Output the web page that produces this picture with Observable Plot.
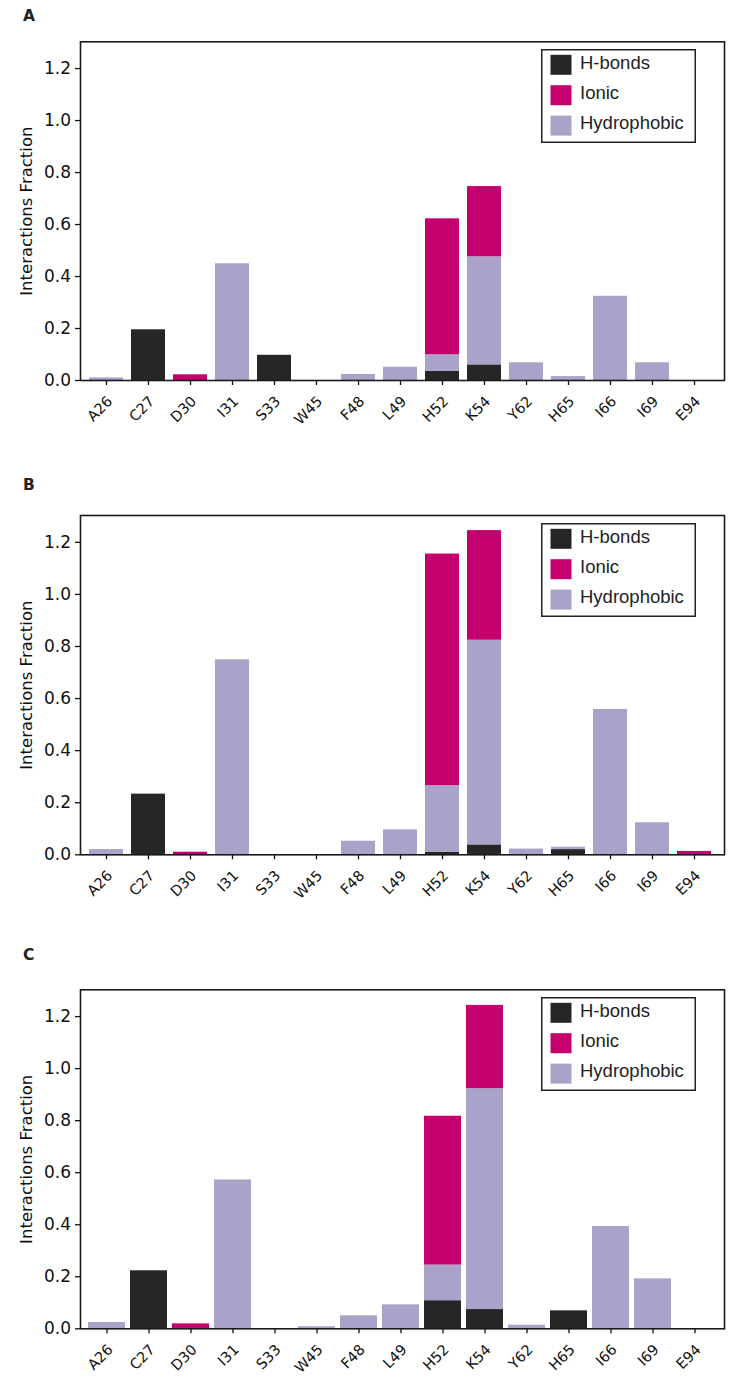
<!DOCTYPE html>
<html>
<head>
<meta charset="utf-8">
<script src="https://cdn.jsdelivr.net/npm/d3@7"></script>
<script src="https://cdn.jsdelivr.net/npm/@observablehq/plot@0.6"></script>
<style>
  html, body { margin: 0; padding: 0; background: #fff; }
  .panel { position: relative; width: 748px; }
  .panel svg.plot { display: block; }
  .legend { position: absolute; }
</style>
</head>
<body>
<div id="root"></div>
<script>
const residues = ["A26","C27","D30","I31","S33","W45","F48","L49","H52","K54","Y62","H65","I66","I69","E94"];
const types = ["H-bonds","Ionic","Hydrophobic"];
const typeColors = ["#262626","#c5006e","#aaa2c8"];
const stackOrder = ["H-bonds","Hydrophobic","Ionic"];
const panelLetters = ["A","B","C"];
const yTicks = [0, 0.2, 0.4, 0.6, 0.8, 1.0, 1.2];
const yLabel = "Interactions Fraction";

const hbondsA = [0,0.195,0,0,0.097,0,0,0,0.035,0.060,0,0,0,0,0];
const ionicA  = [0,0,0.022,0,0,0,0,0,0.523,0.270,0,0,0,0,0];
const hydroA  = [0.010,0,0,0.449,0,0,0.023,0.051,0.064,0.416,0.068,0.015,0.324,0.068,0];

const hbondsB = [0,0.233,0,0,0,0,0,0,0.010,0.038,0,0.020,0,0,0];
const ionicB  = [0,0,0.010,0,0,0,0,0,0.889,0.421,0,0,0,0,0.013];
const hydroB  = [0.020,0,0,0.749,0,0,0.052,0.096,0.256,0.786,0.022,0.009,0.558,0.123,0];

const hbondsC = [0,0.223,0,0,0,0,0,0,0.108,0.074,0,0.069,0,0,0];
const ionicC  = [0,0,0.019,0,0,0,0,0,0.572,0.320,0,0,0,0,0];
const hydroC  = [0.024,0,0,0.572,0,0.008,0.050,0.092,0.137,0.849,0.014,0,0.393,0.192,0];

const panels = [
  {letter: panelLetters[0], series: {"H-bonds": hbondsA, "Ionic": ionicA, "Hydrophobic": hydroA}, height: 474, mt: 41.3, base: 380, letterDy: -20.4, padInner: 0.2},
  {letter: panelLetters[1], series: {"H-bonds": hbondsB, "Ionic": ionicB, "Hydrophobic": hydroB}, height: 470, mt: 41, base: 380.3, letterDy: -25.3, padInner: 0.2},
  {letter: panelLetters[2], series: {"H-bonds": hbondsC, "Ionic": ionicC, "Hydrophobic": hydroC}, height: 438, mt: 45.3, base: 384.3, letterDy: -30, padInner: 0.12}
];

const W = 748, ML = 80, MR = 24;
const tickFont = "DejaVu Sans, sans-serif";
const root = document.getElementById("root");

function drawLegend(container, top) {
  const lw = 155, lh = 94;
  const svg = d3.create("svg")
    .attr("class", "legend")
    .attr("width", lw).attr("height", lh)
    .style("left", "541px").style("top", (top + 7.5) + "px");
  svg.append("rect").attr("x", 0.75).attr("y", 0.75).attr("width", lw - 1.5).attr("height", lh - 1.5)
    .attr("fill", "#fff").attr("stroke", "#222").attr("stroke-width", 1.5);
  types.forEach((t, i) => {
    svg.append("rect").attr("x", 9.5).attr("y", 5.8 + i * 30.4).attr("width", 21).attr("height", 20)
      .attr("fill", typeColors[i]);
    svg.append("text").attr("x", 39).attr("y", 19.8 + i * 30.2)
      .attr("font-family", "Liberation Sans, Arial, sans-serif").attr("font-size", 18.5)
      .attr("fill", "#222").text(t);
  });
  container.appendChild(svg.node());
}

for (const p of panels) {
  const data = [];
  for (const t of stackOrder) {
    p.series[t].forEach((v, i) => { if (v > 0) data.push({residue: residues[i], type: t, value: v}); });
  }
  const po = (W - ML - MR) / 42.1 - residues.length + p.padInner;
  const chart = Plot.plot({
    width: W,
    height: p.height,
    marginLeft: ML,
    marginRight: MR,
    marginTop: p.mt,
    marginBottom: p.height - p.base,
    style: {fontFamily: tickFont, color: "#111", background: "#fff"},
    x: {domain: residues, paddingInner: p.padInner, paddingOuter: po / 2, align: 0.42, axis: null},
    y: {domain: [0, 1.303], axis: null},
    color: {domain: types, range: typeColors},
    marks: [
      Plot.barY(data, {x: "residue", y: "value", fill: "type", order: stackOrder}),
      Plot.axisY({ticks: yTicks, tickFormat: d => d.toFixed(1), tickSize: 5, tickPadding: 4.5, fontSize: 17, label: null, strokeWidth: 1.3}),
      Plot.axisX({ticks: residues, tickSize: 5, tickFormat: () => "", label: null, strokeWidth: 1.3}),
      Plot.text(residues, {x: d => d, frameAnchor: "bottom", dy: 18.5, dx: 3.6, rotate: -45, textAnchor: "end", lineAnchor: "middle", fontSize: 14.5, fill: "#111"}),
      Plot.text([yLabel], {frameAnchor: "left", dx: -53.6, rotate: -90, textAnchor: "middle", lineAnchor: "middle", fontSize: 16.5, fill: "#111"}),
      Plot.text([p.letter], {frameAnchor: "top-left", dx: -57.6, dy: p.letterDy, textAnchor: "start", lineAnchor: "bottom", fontSize: 15.5, fontWeight: "bold", fill: "#222"}),
      Plot.frame({stroke: "#1a1a1a", strokeWidth: 1.6})
    ]
  });
  chart.classList.add("plot");
  const div = document.createElement("div");
  div.className = "panel";
  div.style.height = p.height + "px";
  div.appendChild(chart);
  drawLegend(div, p.mt);
  root.appendChild(div);
}
</script>
</body>
</html>
